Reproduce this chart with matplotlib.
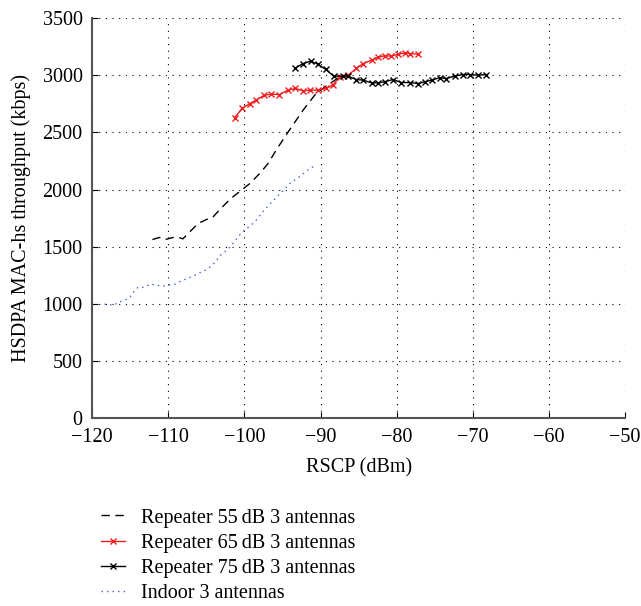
import matplotlib.pyplot as plt

plt.rcParams['font.family'] = ['Liberation Serif', 'DejaVu Serif']

# Repeater 55 dB 3 antennas (dashed)
rssi_55 = [-112.1, -111.2, -110.4, -109.4, -108.6, -108.1, -107.2, -106.1, -105.0, -104.2,
           -103.1, -101.8, -100.4, -99.3, -98.0, -96.9, -95.8, -94.1, -92.3, -90.6, -88.8, -87.1]
thr_55 = [1563, 1581, 1563, 1581, 1581, 1569, 1630, 1703, 1738, 1756,
          1835, 1922, 1995, 2053, 2141, 2228, 2350, 2520, 2695, 2841, 2928, 3001]

# Repeater 65 dB 3 antennas (red, x markers)
rssi_65 = [-101.3, -100.3, -99.3, -98.5, -97.4, -96.5, -95.4, -94.3, -93.3, -92.3, -91.4,
           -90.4, -89.3, -88.4, -87.5, -86.4, -85.3, -84.4, -83.3, -82.5, -81.6, -80.7,
           -79.8, -78.9, -78.3, -77.2]
thr_65 = [2630, 2710, 2753, 2782, 2826, 2835, 2832, 2870, 2885, 2864, 2870,
          2870, 2885, 2914, 2987, 3001, 3060, 3103, 3133, 3156, 3171, 3168,
          3185, 3197, 3190, 3185]

# Repeater 75 dB 3 antennas (black, x markers)
rssi_75 = [-93.4, -92.3, -91.3, -90.4, -89.3, -88.3, -87.1, -86.4, -85.3, -84.4, -83.3,
           -82.5, -81.6, -80.5, -79.4, -78.3, -77.2, -76.3, -75.4, -74.3, -73.5, -72.4,
           -71.3, -70.4, -69.3, -68.2]
thr_75 = [3060, 3103, 3124, 3098, 3051, 2993, 2993, 2993, 2963, 2958, 2934,
          2934, 2943, 2963, 2937, 2937, 2928, 2943, 2958, 2980, 2972, 2993,
          3007, 3007, 3001, 3007]

# Indoor 3 antennas (blue dotted)
rssi_in = [-118.4, -117.2, -116.4, -115.7, -115.0, -114.5, -113.9, -113.2, -112.4, -111.6,
           -110.8, -109.9, -109.1, -108.3, -107.5, -106.7, -105.9, -105.1, -104.4, -103.8,
           -103.3, -102.6, -102.0, -101.4, -100.9, -100.3, -99.6, -98.9, -98.3, -97.8,
           -97.2, -96.6, -96.0, -95.4, -94.7, -94.2, -93.4, -92.8, -92.1, -91.4, -90.6]
thr_in = [997, 989, 1018, 1032, 1062, 1111, 1149, 1144, 1173, 1164,
          1155, 1164, 1173, 1202, 1222, 1243, 1272, 1295, 1330, 1368,
          1418, 1455, 1493, 1537, 1581, 1630, 1665, 1703, 1744, 1791,
          1835, 1878, 1919, 1960, 2004, 2047, 2083, 2111, 2150, 2185, 2214]

x_ticks = [-120, -110, -100, -90, -80, -70, -60, -50]
y_ticks = [0, 500, 1000, 1500, 2000, 2500, 3000, 3500]

fig = plt.figure(figsize=(6.41, 6.06), dpi=100)
ax = fig.add_axes([0.144, 0.31, 0.831, 0.66])

ax.plot(rssi_55, thr_55, color='black', linestyle=(0, (6, 4)), linewidth=1.0,
        label='Repeater 55\u2009dB 3 antennas')
ax.plot(rssi_65, thr_65, color='#f02020', marker='x', markersize=5, linewidth=1.0,
        label='Repeater 65\u2009dB 3 antennas')
ax.plot(rssi_75, thr_75, color='black', marker='x', markersize=5, linewidth=1.0,
        label='Repeater 75\u2009dB 3 antennas')
ax.plot(rssi_in, thr_in, color='#4a5cc8', linestyle=(0, (1, 3)), linewidth=1.0,
        label='Indoor 3 antennas')

ax.set_xlim(-120, -50)
ax.set_ylim(0, 3500)
ax.set_xticks(x_ticks)
ax.set_yticks(y_ticks)
ax.set_xticklabels(['\u2212' + str(-t) for t in x_ticks])
ax.grid(True, color='black', linestyle=(0, (1, 5)), linewidth=0.8)
ax.tick_params(direction='in', labelsize=14.5, length=4, pad=7)
for s in ['top', 'right']:
    ax.spines[s].set_visible(False)
for s in ['left', 'bottom']:
    ax.spines[s].set_color('#555555')
    ax.spines[s].set_linewidth(1.5)

ax.set_xlabel('RSCP (dBm)', fontsize=14.5, labelpad=8)
ax.set_ylabel('HSDPA MAC-hs throughput (kbps)', fontsize=14.5, labelpad=8)

fig.legend(loc='upper left', bbox_to_anchor=(0.158, 0.161), frameon=False,
           fontsize=14.5, handlelength=1.2, handletextpad=0.75,
           labelspacing=0.3, borderaxespad=0, borderpad=0)

fig.savefig('out.png', dpi=100)
